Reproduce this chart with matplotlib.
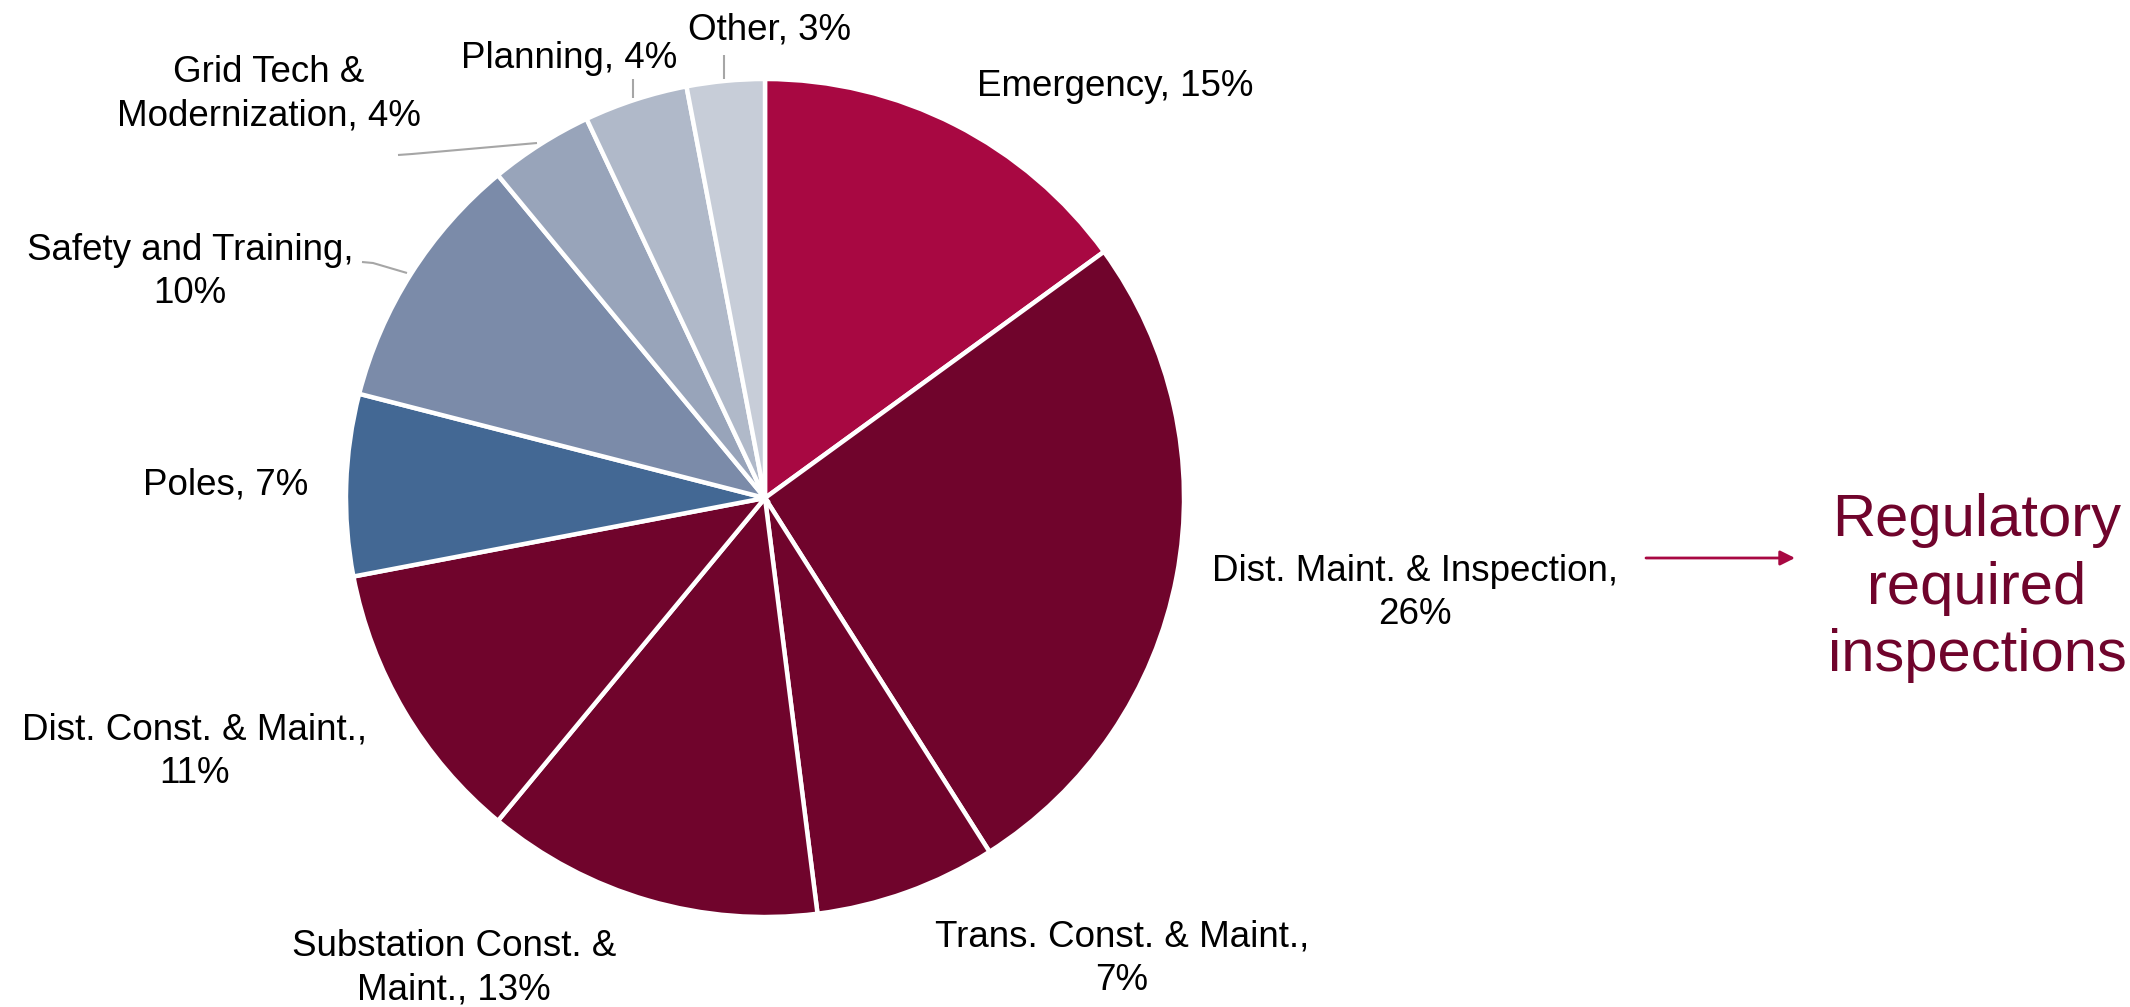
import matplotlib
matplotlib.use("Agg")
import matplotlib.pyplot as plt

plt.rcParams["font.family"] = ["Liberation Sans", "DejaVu Sans"]

W, H = 2130, 1007

# slice data, clockwise from 12 o'clock
names = ["Emergency", "Dist. Maint. & Inspection", "Trans. Const. & Maint.",
         "Substation Const. &\nMaint.", "Dist. Const. & Maint.", "Poles",
         "Safety and Training", "Grid Tech &\nModernization", "Planning", "Other"]
shares = [15, 26, 7, 13, 11, 7, 10, 4, 4, 3]
seps = [" ", "\n", "\n", " ", "\n", " ", "\n", " ", " ", " "]
colors = ["#A80842", "#70042C", "#70042C", "#70042C", "#70042C",
          "#436894", "#7B8BA9", "#98A4BA", "#B0B9C9", "#C7CDD8"]
explode = [0, 0.012, 0, 0, 0, 0, 0, 0, 0, 0]

# label centres in pixels from the top-left
label_xy = [(1115, 86), (1415, 593), (1122, 959), (454, 968), (194, 752),
            (226, 485), (190, 272), (269, 94), (569, 58), (770, 30)]

# leader lines (pixels from top-left)
leaders = {
    6: [(362, 262), (373, 263), (407, 273)],
    7: [(398, 155), (412, 154), (537, 143)],
    8: [(633, 79), (633, 98)],
    9: [(724, 55), (724, 79)],
}

MAROON, CRIMSON, GREY = "#70042C", "#A80842", "#A6A6A6"


def up(p):
    return p[0], H - p[1]


fig = plt.figure(figsize=(W / 100, H / 100), dpi=100)
ax = fig.add_axes([0, 0, 1, 1])
ax.set_xlim(0, W)
ax.set_ylim(0, H)
ax.set_aspect("equal")
ax.axis("off")

ax.pie(shares, colors=colors, startangle=90, counterclock=False,
       center=up((765, 498)), radius=419, explode=explode,
       wedgeprops=dict(edgecolor="white", linewidth=3.2))
ax.set_xlim(0, W)
ax.set_ylim(0, H)

for n, s, sep, xy in zip(names, shares, seps, label_xy):
    ax.text(*up(xy), f"{n},{sep}{s}%", ha="center", va="center",
            multialignment="center", fontsize=26.5, color="black",
            linespacing=1.32)

for pts in leaders.values():
    xs, ys = zip(*[up(p) for p in pts])
    ax.plot(xs, ys, color=GREY, lw=1.5, solid_capstyle="butt")

ax.annotate("", xy=up((1795, 558)), xytext=up((1646, 558)),
            arrowprops=dict(arrowstyle="-|>", color=CRIMSON, lw=2,
                            mutation_scale=22, shrinkA=0, shrinkB=0))
ax.text(*up((1977, 588)), "Regulatory\nrequired\ninspections",
        ha="center", va="center", fontsize=43, color=MAROON, linespacing=1.3)

fig.savefig("out.png", dpi=100)
